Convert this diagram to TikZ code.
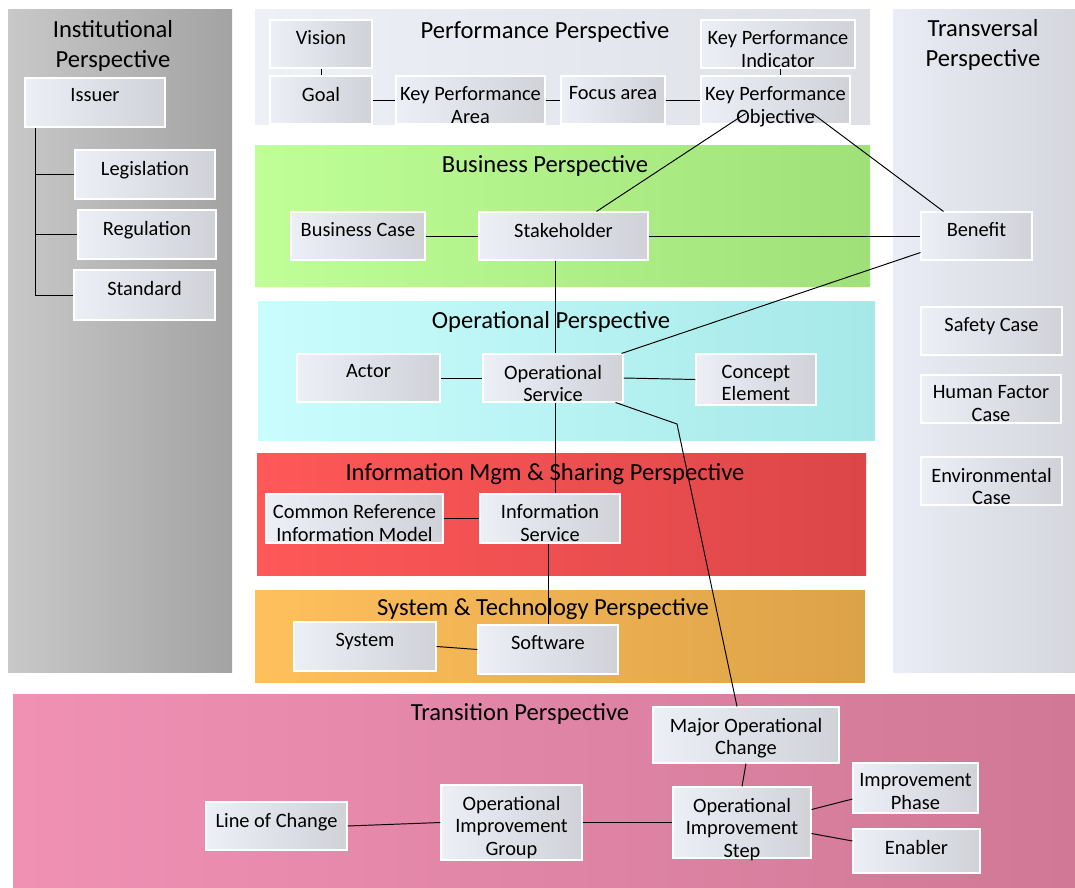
\documentclass[tikz,border=0pt]{standalone}
\usepackage{fontspec}
\setmainfont{Carlito}
\usetikzlibrary{fit,calc}
\definecolor{boxl}{RGB}{237,239,247}
\definecolor{boxr}{RGB}{208,210,216}
\tikzset{every picture/.style={x=0.02cm,y=-0.02cm},
  box/.style={draw=white, line width=0.6pt, left color=boxl, right color=boxr, inner sep=0pt},
  boxtext/.style={anchor=north, align=center, inner sep=0pt, font=\fontsize{11.6}{13}\selectfont},
  title/.style={align=center, inner sep=0pt, font=\fontsize{14}{17}\selectfont},
  link/.style={black, line width=0.55pt}}
\newcommand\pbox[6]{%
  \node[box, fit={(#2,#3) (#4,#5)}] (#1) {};
  \node[boxtext] (#1-t) at ([yshift=-6.3pt]#1.north) {#6};}

\begin{document}
\begin{tikzpicture}
  \useasboundingbox (0,0) rectangle (1075,888);
  \fill[white] (0,0) rectangle (1075,888);
  \shade[left color={rgb,255:red,200;green,200;blue,200}, right color={rgb,255:red,163;green,163;blue,163}] (8,10) rectangle (232,672);
  \shade[left color={rgb,255:red,238;green,240;blue,248}, right color={rgb,255:red,222;green,224;blue,230}] (255,10) rectangle (870,125);
  \shade[left color={rgb,255:red,234;green,236;blue,246}, right color={rgb,255:red,213;green,215;blue,221}] (893,10) rectangle (1075,672);
  \shade[left color={rgb,255:red,192;green,255;blue,152}, right color={rgb,255:red,160;green,224;blue,120}] (255,146) rectangle (870,287);
  \shade[left color={rgb,255:red,202;green,253;blue,253}, right color={rgb,255:red,166;green,232;blue,232}] (258,302) rectangle (875,440);
  \shade[left color={rgb,255:red,255;green,88;blue,88}, right color={rgb,255:red,220;green,70;blue,72}] (257,453) rectangle (866,575);
  \shade[left color={rgb,255:red,255;green,192;blue,92}, right color={rgb,255:red,220;green,162;blue,72}] (255,590) rectangle (865,682);
  \shade[left color={rgb,255:red,240;green,145;blue,180}, right color={rgb,255:red,208;green,120;blue,150}] (13,694) rectangle (1075,888);

  \node[title] (t-inst) at (113,46) {Institutional\\Perspective};
  \node[title] (t-perf) at (545,32) {Performance Perspective};
  \node[title] (t-trans) at (983,45) {Transversal\\Perspective};
  \node[title] (t-bus) at (545,166) {Business Perspective};
  \node[title] (t-op) at (551,322) {Operational Perspective};
  \node[title] (t-info) at (545,474) {Information Mgm \& Sharing Perspective};
  \node[title] (t-sys) at (543,609) {System \& Technology Perspective};
  \node[title] (t-tr) at (520,714) {Transition Perspective};

  \pbox{issuer}{25}{78}{165}{127}{Issuer}
  \pbox{legis}{75}{150}{215}{199}{Legislation}
  \pbox{regul}{78}{210}{216}{259}{Regulation}
  \pbox{standard}{74}{270}{215}{320}{Standard}
  \pbox{vision}{270}{20}{372}{68}{Vision}
  \pbox{goal}{270}{76}{372}{124}{Goal}
  \pbox{kpa}{396}{76}{545}{124}{Key Performance\\Area}
  \pbox{focus}{561}{76}{665}{124}{Focus area}
  \pbox{kpo}{701}{76}{850}{124}{Key Performance\\Objective}
  \pbox{kpi}{701}{20}{855}{68}{Key Performance\\Indicator}
  \pbox{bcase}{291}{212}{425}{260}{Business Case}
  \pbox{stake}{479}{212}{648}{260}{Stakeholder}
  \pbox{benefit}{921}{212}{1032}{260}{Benefit}
  \pbox{actor}{297}{354}{440}{402}{Actor}
  \pbox{opsvc}{483}{354}{623}{402}{Operational\\Service}
  \pbox{concept}{696}{354}{816}{405}{Concept\\Element}
  \pbox{crim}{266}{494}{443}{543}{Common Reference\\Information Model}
  \pbox{infosvc}{480}{494}{620}{543}{Information\\Service}
  \pbox{system}{294}{622}{436}{671}{System}
  \pbox{software}{478}{625}{618}{674}{Software}
  \pbox{safety}{921}{307}{1062}{355}{Safety Case}
  \pbox{hfcase}{921}{375}{1061}{423}{Human Factor\\Case}
  \pbox{envcase}{921}{457}{1062}{505}{Environmental\\Case}
  \pbox{moc}{653}{707}{839}{763}{Major Operational\\Change}
  \pbox{ois}{673}{787}{811}{858}{Operational\\Improvement\\Step}
  \pbox{phase}{853}{763}{978}{813}{Improvement\\Phase}
  \pbox{enabler}{853}{829}{980}{873}{Enabler}
  \pbox{oig}{441}{785}{582}{860}{Operational\\Improvement\\Group}
  \pbox{loc}{206}{802}{347}{850}{Line of Change}

  \coordinate (trunk) at ($(issuer.south west)+(11,0)$);
  \draw[link] (trunk) |- (standard.west);
  \draw[link] (trunk |- legis.west) -- (legis.west);
  \draw[link] (trunk |- regul.west) -- (regul.west);
  \draw[link] (vision.south) -- (goal.north);
  \draw[link] (goal.east) -- (kpa.west);
  \draw[link] (kpa.east) -- (focus.west);
  \draw[link] (focus.east) -- (kpo.west);
  \draw[link] ($(kpi.south)+(2,0)$) -- ($(kpi.south |- kpo.north)+(2,0)$);
  \draw[link] ($(kpo.south)+(-30,-11)$) -- ($(stake.north)+(33,0)$);
  \draw[link] ($(kpo.south)+(37,-11)$) -- ($(benefit.north)+(-33,0)$);
  \draw[link] (bcase.east) -- (stake.west);
  \draw[link] (stake.east) -- (benefit.west);
  \draw[link] ($(benefit.south west)+(0,-8)$) -- ($(opsvc.north east)+(-2,0)$);
  \draw[link] ($(stake.south -| opsvc.north)+(2,0)$) -- ($(opsvc.north)+(2,0)$);
  \draw[link] (actor.east) -- (opsvc.west);
  \draw[link] (opsvc.east) -- (concept.west);
  \draw[link] ($(opsvc.south)+(2,0)$) -- ($(opsvc.south |- infosvc.north)+(2,0)$);
  \coordinate (bend) at (677,424);
  \draw[link] ($(opsvc.south east)+(-8,0)$) -- (bend) -- ($(moc.north)+(-9,0)$);
  \draw[link] (crim.east) -- (infosvc.west);
  \draw[link] ($(infosvc.south)+(-2,0)$) -- ($(infosvc.south |- software.north)+(-2,0)$);
  \draw[link] (system.east) -- (software.west);
  \draw[link] (moc.south) -- (ois.north);
  \draw[link] ($(ois.east)+(0,-13)$) -- ($(phase.west)+(0,11)$);
  \draw[link] ($(ois.east)+(0,11)$) -- ($(enabler.west)+(0,-10)$);
  \draw[link] (oig.east) -- (ois.west);
  \draw[link] (loc.east) -- (oig.west);
\end{tikzpicture}
\end{document}
